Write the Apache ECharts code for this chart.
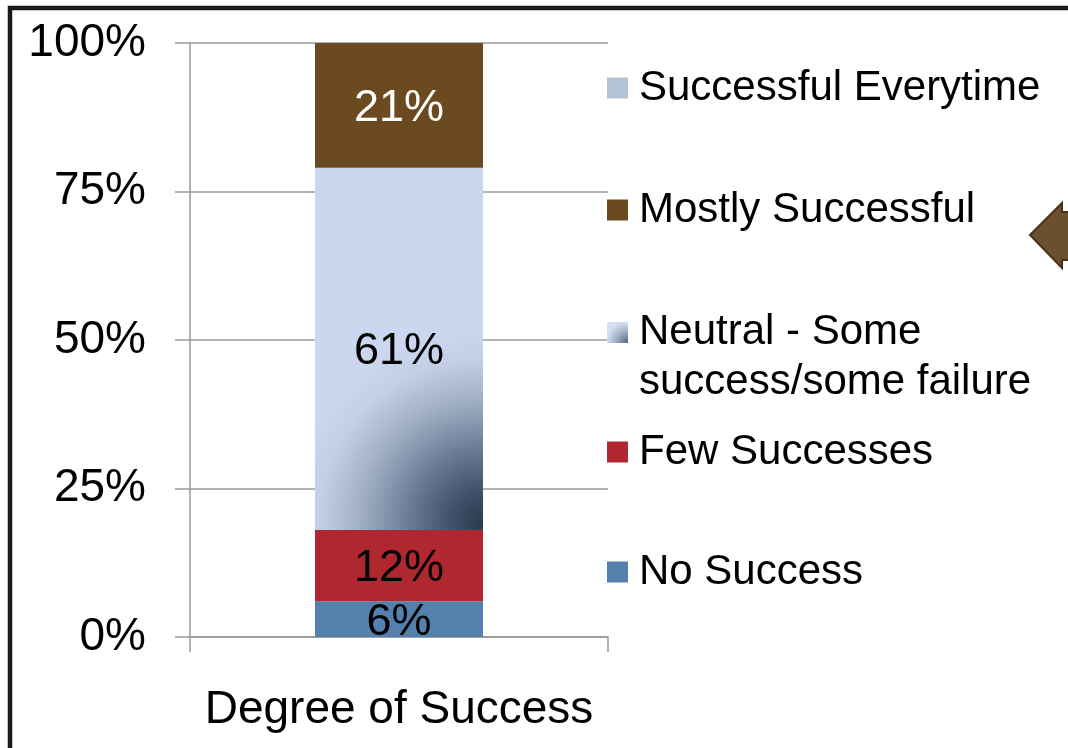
<!DOCTYPE html>
<html>
<head>
<meta charset="utf-8">
<script src="https://cdn.jsdelivr.net/npm/echarts@6/dist/echarts.min.js"></script>
<style>
  html, body { margin: 0; padding: 0; background: #ffffff; }
  #chart { width: 1068px; height: 748px; }
</style>
</head>
<body>
<div id="chart"></div>
<script>
// ---- data ----
const categories = ['Degree of Success'];
const noSuccess = [6];
const fewSuccesses = [12];
const neutral = [61];
const mostlySuccessful = [21];
const successfulEverytime = [0];
const yTicks = [0, 25, 50, 75, 100];

const seriesNames = [
  'No Success',
  'Few Successes',
  'Neutral - Some success/some failure',
  'Mostly Successful',
  'Successful Everytime'
];

const FONT = '"Liberation Sans", Arial, sans-serif';

const neutralFill = {
  type: 'radial', x: 1.0, y: 0.98, r: 1.15,
  colorStops: [
    { offset: 0, color: '#2b3b50' },
    { offset: 0.15, color: '#3d4f66' },
    { offset: 0.4, color: '#6d7f98' },
    { offset: 0.65, color: '#a3b2c8' },
    { offset: 0.85, color: '#c3cfe5' },
    { offset: 1, color: '#cbd7ee' }
  ]
};
const neutralIconFill = {
  type: 'radial', x: 0.95, y: 0.36, r: 1.0,
  colorStops: [
    { offset: 0, color: '#5a6d88' },
    { offset: 0.6, color: '#a9b8d0' },
    { offset: 1, color: '#d6e0f2' }
  ]
};

const colors = ['#5380ad', '#b0282f', neutralFill, '#6b4a1f', '#b3c3d6'];
const labelColors = ['#000', '#000', '#000', '#fff', '#000'];
const values = [noSuccess, fewSuccesses, neutral, mostlySuccessful, successfulEverytime];

const series = seriesNames.map((name, i) => ({
  name: name,
  type: 'bar',
  stack: 'total',
  barWidth: 168,
  data: values[i],
  itemStyle: { color: colors[i] },
  label: {
    show: true,
    position: 'inside',
    offset: [0, 3],
    fontFamily: FONT,
    fontSize: 45,
    color: labelColors[i],
    formatter: p => (p.value > 0 ? p.value + '%' : '')
  },
  emphasis: { disabled: true }
}));

function legendFor(name, centerY, extra) {
  return Object.assign({
    data: [name],
    orient: 'vertical',
    left: 607,
    top: centerY - 25.5,
    padding: 0,
    itemWidth: 21,
    itemHeight: 21,
    itemGap: 0,
    selectedMode: false,
    icon: 'rect',
    itemStyle: { borderWidth: 0 },
    textStyle: { fontFamily: FONT, fontSize: 42, color: '#000', lineHeight: 48, padding: [3, 0, 0, 6] }
  }, extra || {});
}

const legends = [
  legendFor(seriesNames[4], 88),
  legendFor(seriesNames[3], 210),
  legendFor(seriesNames[2], 0, {
    data: [{ name: seriesNames[2], itemStyle: { color: neutralIconFill } }],
    top: 305,
    itemHeight: 104,
    icon: 'path://M0,17L21,17L21,38L0,38Z M0,0L0.01,0 M0,104L0.01,104',
    formatter: () => 'Neutral - Some\nsuccess/some failure',
    textStyle: { fontFamily: FONT, fontSize: 42, color: '#000', lineHeight: 50, padding: [4, 0, 0, 6] }
  }),
  legendFor(seriesNames[1], 452),
  legendFor(seriesNames[0], 572)
];

const chart = echarts.init(document.getElementById('chart'), null, { renderer: 'canvas' });
chart.setOption({
  animation: false,
  backgroundColor: '#ffffff',
  grid: { left: 190, right: 460, top: 43, bottom: 111, containLabel: false },
  legend: legends,
  xAxis: {
    type: 'category',
    data: categories,
    boundaryGap: true,
    axisLine: { show: true, lineStyle: { color: '#9a9a9a', width: 1.5 } },
    axisTick: { show: true, length: 15, alignWithLabel: false, lineStyle: { color: '#9a9a9a', width: 1.5 } },
    axisLabel: { fontFamily: FONT, fontSize: 46, color: '#000', margin: 50 }
  },
  yAxis: {
    type: 'value',
    min: yTicks[0],
    max: yTicks[yTicks.length - 1],
    interval: 25,
    axisLine: { show: true, lineStyle: { color: '#9a9a9a', width: 1.5 } },
    axisTick: { show: true, length: 15, lineStyle: { color: '#9a9a9a', width: 1.5 } },
    splitLine: { show: true, lineStyle: { color: '#9a9a9a', width: 1.5 } },
    axisLabel: { fontFamily: FONT, fontSize: 46, color: '#000', margin: 44, formatter: v => v + '%' }
  },
  series: series,
  graphic: [
    {
      type: 'rect', silent: true, z: 100,
      shape: { x: 10, y: 8, width: 1200, height: 900 },
      style: { fill: 'none', stroke: '#1a1a1a', lineWidth: 4.5 }
    },
    {
      type: 'polygon', silent: true, z: 100,
      shape: { points: [[1030, 235], [1062, 203], [1062, 212], [1080, 212], [1080, 260], [1062, 260], [1062, 268]] },
      style: { fill: '#6b5030', stroke: '#4a3216', lineWidth: 2 }
    }
  ]
});
</script>
</body>
</html>
